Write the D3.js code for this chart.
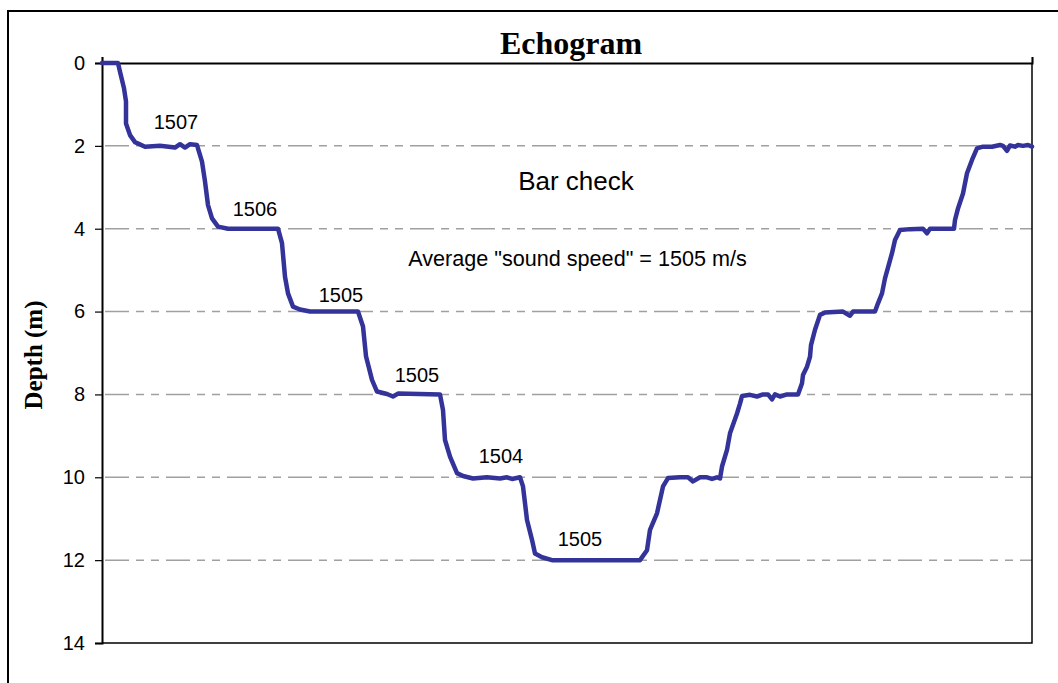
<!DOCTYPE html>
<html>
  <head>
    <title>Echogram</title>
    <meta charset="utf-8" />
    <script src="https://cdn.jsdelivr.net/npm/d3@7"></script>
    <style type="text/css">
      body { margin: 0; background: #fff; }
      svg { display: block; }
      .tick text { font-family: 'Liberation Sans', Arial, sans-serif; font-size: 20px; fill: #000; }
      .note { font-family: 'Liberation Sans', Arial, sans-serif; fill: #000; }
    </style>
  </head>
  <body>
    <svg class="echogram"></svg>
    <script>
      // sounding record: ping number vs. depth (m)
      const pings = [
        0, 16, 18, 22, 24, 24, 28, 33, 43, 58, 73, 78, 83, 88, 95,
        100, 103, 106, 110, 116, 126, 176,
        180, 183, 186, 191, 198, 208, 256,
        261, 264, 270, 275, 285, 291, 296, 338,
        341, 343, 348, 355, 361, 371, 385, 398, 405, 410, 418,
        421, 425, 430, 433, 440, 450, 538,
        545, 548, 555, 561, 566, 578, 586, 591, 598, 605, 610, 615, 618,
        620, 625, 628, 635, 638, 640, 648, 655, 661, 666, 670, 673, 678, 685, 696,
        700, 701, 705, 708, 709, 713, 718, 723, 741, 748, 751, 773,
        776, 780, 783, 790, 793, 798, 808, 821, 825, 828, 852,
        853, 856, 861, 865, 870, 875, 881, 890, 898, 901, 905, 908, 913, 916, 921, 926, 930
      ]
      const depths = [
        0, 0, 0.21, 0.61, 0.93, 1.46, 1.74, 1.91, 2.02, 2.0, 2.04, 1.96, 2.04, 1.96, 1.98,
        2.38, 2.86, 3.43, 3.75, 3.95, 4.0, 4.0,
        4.35, 5.16, 5.56, 5.88, 5.95, 6.0, 6.0,
        6.36, 7.08, 7.65, 7.93, 7.99, 8.05, 7.98, 8.0,
        8.38, 9.1, 9.5, 9.9, 9.97, 10.03, 10.0, 10.03, 10.0, 10.04, 10.0,
        10.22, 11.03, 11.51, 11.84, 11.93, 12.0, 12.0,
        11.76, 11.27, 10.87, 10.22, 10.02, 10.0, 10.0, 10.1, 10.0, 10.0, 10.04, 10.0, 10.03,
        9.74, 9.34, 8.94, 8.46, 8.22, 8.04, 8.01, 8.05, 8.0, 8.0, 8.12, 8.0, 8.05, 8.0, 8.0,
        7.73, 7.53, 7.33, 7.09, 6.81, 6.44, 6.08, 6.02, 6.0, 6.1, 6.0, 6.0,
        5.8, 5.56, 5.2, 4.59, 4.27, 4.03, 4.01, 4.0, 4.11, 4.0, 4.0,
        3.79, 3.51, 3.15, 2.66, 2.34, 2.06, 2.02, 2.02, 1.98, 2.0, 2.12, 1.99, 2.02, 1.98, 2.0, 1.98, 2.02
      ]

      // sound speed found at each bar check step
      const speeds = [1507, 1506, 1505, 1505, 1504, 1505]
      const speedPings = [74, 153, 239, 315, 399, 478]
      const speedDepths = [1.59, 3.69, 5.76, 7.69, 9.65, 11.67]

      const depthTicks = [0, 2, 4, 6, 8, 10, 12, 14]

      const width = 1058
      const height = 683
      const margin = {top: 63, right: 26, bottom: 40, left: 102}

      const x = d3.scaleLinear()
        .domain([0, 930])
        .range([margin.left, width - margin.right])

      const y = d3.scaleLinear()
        .domain([0, 14])
        .range([margin.top, height - margin.bottom])

      const svg = d3.select("svg.echogram")
        .attr("width", width)
        .attr("height", height)

      // chart frame
      svg.append("rect")
        .attr("x", 8).attr("y", 11)
        .attr("width", width + 20).attr("height", height + 20)
        .attr("fill", "none")
        .attr("stroke", "#000")
        .attr("stroke-width", 2)

      // gridlines
      svg.append("g")
        .selectAll("line")
        .data(depthTicks.slice(1, -1))
        .join("line")
          .attr("x1", x(0)).attr("x2", x(930))
          .attr("y1", d => y(d)).attr("y2", d => y(d))
          .attr("stroke", "#a0a0a0")
          .attr("stroke-width", 1.5)
          .attr("stroke-dasharray", "8,7,8,7,24,7")
          .attr("stroke-dashoffset", 27)

      // plot area border (right + bottom)
      svg.append("path")
        .attr("d", `M${x(930)},${y(0)}V${y(14)}H${x(0)}`)
        .attr("fill", "none")
        .attr("stroke", "#000")
        .attr("stroke-width", 1.5)

      const yAxis = g => g
        .attr("transform", `translate(${margin.left},0)`)
        .call(d3.axisLeft(y).tickValues(depthTicks).tickSize(7).tickPadding(10))
        .call(g => g.select(".domain").attr("stroke", "#000").attr("stroke-width", 2))
        .call(g => g.selectAll(".tick line").attr("stroke", "#000").attr("stroke-width", 1.2))

      const xAxis = g => g
        .attr("transform", `translate(0,${margin.top})`)
        .call(d3.axisTop(x).tickValues([0, 930]).tickSize(6).tickFormat(""))
        .call(g => g.select(".domain").attr("stroke", "#000").attr("stroke-width", 2))
        .call(g => g.selectAll(".tick line").attr("stroke", "#000").attr("stroke-width", 1.2))

      svg.append("g").attr("class", "y axis").call(yAxis)
      svg.append("g").attr("class", "x axis").call(xAxis)

      const line = d3.line()
        .x((d, i) => x(pings[i]))
        .y(d => y(d))

      svg.append("path")
        .datum(depths)
        .attr("d", line)
        .attr("fill", "none")
        .attr("stroke", "#333399")
        .attr("stroke-width", 4.5)
        .attr("stroke-linejoin", "round")
        .attr("stroke-linecap", "round")

      svg.append("g")
        .selectAll("text")
        .data(speeds)
        .join("text")
          .attr("class", "note")
          .attr("x", (d, i) => x(speedPings[i]))
          .attr("y", (d, i) => y(speedDepths[i]))
          .attr("text-anchor", "middle")
          .style("font-size", "20px")
          .text(d => d)

      svg.append("text")
        .attr("class", "note")
        .attr("x", x(474)).attr("y", y(3.07))
        .attr("text-anchor", "middle")
        .style("font-size", "26px")
        .text("Bar check")

      svg.append("text")
        .attr("class", "note")
        .attr("x", x(475.5)).attr("y", y(4.9))
        .attr("text-anchor", "middle")
        .style("font-size", "21.6px")
        .text('Average "sound speed" = 1505 m/s')

      svg.append("text")
        .attr("x", 571).attr("y", 54)
        .attr("text-anchor", "middle")
        .style("font-family", "'Liberation Serif', 'Times New Roman', serif")
        .style("font-weight", "bold")
        .style("font-size", "32px")
        .text("Echogram")

      svg.append("text")
        .attr("transform", `translate(42,355) rotate(-90)`)
        .attr("text-anchor", "middle")
        .style("font-family", "'Liberation Serif', 'Times New Roman', serif")
        .style("font-weight", "bold")
        .style("font-size", "25px")
        .text("Depth (m)")
    </script>
  </body>
</html>
